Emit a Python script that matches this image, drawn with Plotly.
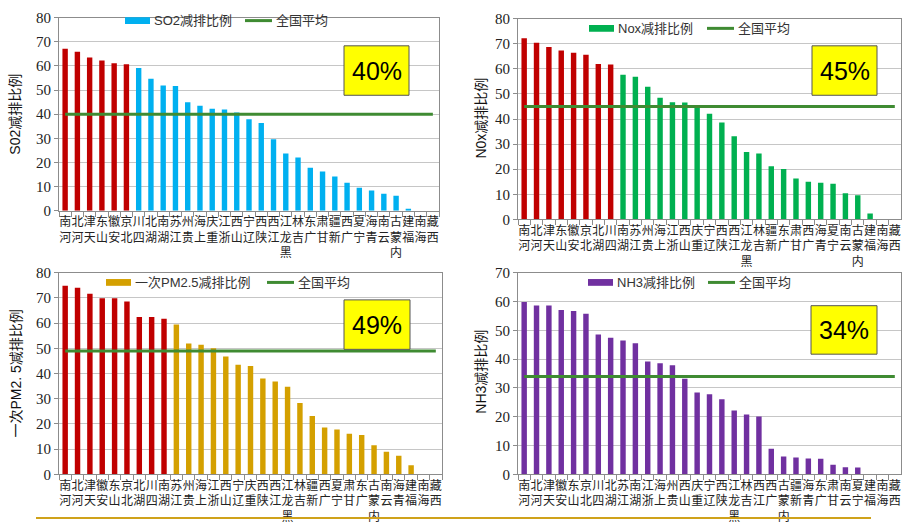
import plotly.graph_objects as go

W, H = 903, 528

# ---- data -------------------------------------------------------------
so2_provinces = ["河南", "河北", "天津", "山东", "安徽", "北京", "四川", "湖北", "湖南", "江苏",
                 "贵州", "上海", "重庆", "浙江", "山西", "辽宁", "陕西", "江西", "黑龙江", "吉林",
                 "广东", "甘肃", "新疆", "广西", "宁夏", "青海", "云南", "内蒙古", "福建", "海南", "西藏"]
so2_values = [67.1, 65.9, 63.5, 62.3, 61.1, 60.7, 59.1, 54.7, 51.9, 51.7,
              44.9, 43.5, 42.3, 41.9, 40.7, 37.9, 36.3, 29.6, 23.7, 22.0,
              17.8, 16.2, 14.2, 11.6, 9.5, 8.4, 7.0, 6.2, 0.7, 0, 0]
so2_highlight = 6
so2_avg = 40

nox_provinces = ["河南", "河北", "天津", "山东", "安徽", "北京", "湖北", "四川", "湖南", "江苏",
                 "贵州", "上海", "浙江", "山西", "重庆", "辽宁", "陕西", "江西", "黑龙江", "吉林",
                 "新疆", "广东", "甘肃", "广西", "青海", "宁夏", "云南", "内蒙古", "福建", "海南", "西藏"]
nox_values = [72.2, 70.4, 68.7, 67.3, 66.4, 65.6, 61.9, 61.7, 57.6, 56.9,
              52.9, 48.5, 46.7, 46.6, 45.5, 42.1, 38.6, 33.1, 26.9, 26.3,
              21.2, 20.1, 16.3, 15.0, 14.6, 14.2, 10.4, 9.6, 2.4, 0, 0]
nox_highlight = 8
nox_avg = 45

pm_provinces = ["河南", "河北", "天津", "安徽", "山东", "北京", "湖北", "四川", "湖南", "江苏",
                "贵州", "上海", "浙江", "山西", "辽宁", "重庆", "陕西", "江西", "黑龙江", "吉林",
                "新疆", "广西", "宁夏", "甘肃", "广东", "内蒙古", "云南", "青海", "福建", "海南", "西藏"]
pm_values = [74.8, 74.0, 71.7, 69.9, 69.9, 68.6, 62.4, 62.4, 61.7, 59.5,
             51.9, 51.4, 50.0, 46.8, 43.5, 43.0, 38.0, 36.9, 34.8, 28.3,
             23.2, 18.6, 17.8, 16.1, 15.6, 11.6, 9.0, 7.4, 3.6, 0, 0]
pm_highlight = 9
pm_avg = 49

nh3_provinces = ["河南", "河北", "天津", "安徽", "山东", "北京", "四川", "湖北", "江苏", "湖南",
                 "浙江", "上海", "贵州", "山西", "重庆", "辽宁", "陕西", "黑龙江", "吉林", "江西",
                 "广西", "内蒙古", "新疆", "青海", "广东", "甘肃", "云南", "宁夏", "福建", "海南", "西藏"]
nh3_values = [59.8, 58.6, 58.6, 57.1, 56.7, 55.8, 48.6, 47.4, 46.5, 45.5,
              39.2, 38.6, 37.9, 33.2, 28.4, 27.8, 26.1, 22.2, 20.8, 20.1,
              8.9, 6.2, 5.9, 5.5, 5.4, 3.4, 2.5, 2.4, 0, 0, 0]
nh3_highlight = 0
nh3_avg = 34

avg_name = "全国平均"

# ---- styling ------------------------------------------------------------
RED = "#C00000"
AVG_GREEN = "#3F8B32"
GRID = "#C6C6C6"
AXIS = "#8C8C8C"
SANS = "Liberation Sans, Noto Sans CJK SC, sans-serif"
SERIF = "Liberation Serif, DejaVu Serif, serif"
CJK = "Noto Sans CJK SC, sans-serif"


def px(x):
    return x / W


def py(y):
    return 1 - y / H


def stacked(name):
    # characters stacked upright, read from bottom to top
    return "<br>".join(reversed(name))


panels = [
    dict(prov=so2_provinces, vals=so2_values, n_hi=so2_highlight, avg=so2_avg,
         color="#00B0F0", name="SO2减排比例", ytitle="S02减排比例", ymax=80,
         xd=(59, 439), yd=(10, 209), title_x=15, title_y=110,
         leg=(125, 13), leg2=(245, 13), box=(344, 39, 409, 90)),
    dict(prov=nox_provinces, vals=nox_values, n_hi=nox_highlight, avg=nox_avg,
         color="#00B050", name="Nox减排比例", ytitle="N0x减排比例", ymax=80,
         xd=(518, 901), yd=(11, 218), title_x=481, title_y=114,
         leg=(589, 21), leg2=(707, 21), box=(812, 39, 877, 90)),
    dict(prov=pm_provinces, vals=pm_values, n_hi=pm_highlight, avg=pm_avg,
         color="#D4A000", name="一次PM2.5减排比例", ytitle="一次PM2. 5减排比例", ymax=80,
         xd=(59, 442), yd=(273, 481), title_x=16, title_y=377,
         leg=(106, 283), leg2=(267, 283), box=(344, 301, 410, 352)),
    dict(prov=nh3_provinces, vals=nh3_values, n_hi=nh3_highlight, avg=nh3_avg,
         color="#7030A0", name="NH3减排比例", ytitle="NH3减排比例", ymax=70,
         xd=(518, 901), yd=(273, 481), title_x=481, title_y=375,
         leg=(588, 283), leg2=(708, 283), box=(811, 307, 877, 357)),
]

fig = go.Figure()
shapes = []
annotations = []
layout_axes = {}

for i, p in enumerate(panels, start=1):
    xa = "x" if i == 1 else f"x{i}"
    ya = "y" if i == 1 else f"y{i}"
    n = len(p["prov"])
    colors = [RED] * p["n_hi"] + [p["color"]] * (n - p["n_hi"])

    fig.add_trace(go.Bar(
        x=p["prov"], y=p["vals"], marker=dict(color=colors, line=dict(width=0)),
        name=p["name"], xaxis=xa, yaxis=ya, showlegend=False,
    ))
    fig.add_trace(go.Scatter(
        x=p["prov"], y=[p["avg"]] * n, mode="lines",
        line=dict(color=AVG_GREEN, width=3), name=avg_name,
        xaxis=xa, yaxis=ya, showlegend=False,
    ))

    xkey = "xaxis" if i == 1 else f"xaxis{i}"
    ykey = "yaxis" if i == 1 else f"yaxis{i}"
    layout_axes[xkey] = dict(
        domain=[px(p["xd"][0]), px(p["xd"][1])], anchor=ya, type="category",
        tickvals=p["prov"], ticktext=[stacked(s) for s in p["prov"]],
        tickangle=0, tickson="boundaries", ticks="outside", ticklen=5,
        tickcolor=AXIS, showline=True, linecolor=AXIS, mirror=True,
        tickfont=dict(family=CJK, size=12, color="#222222"),
        range=[-0.5, n - 0.5], showgrid=False,
    )
    layout_axes[ykey] = dict(
        domain=[py(p["yd"][1]), py(p["yd"][0])], anchor=xa,
        range=[0, p["ymax"]], dtick=10, showgrid=True, gridcolor=GRID, gridwidth=1,
        showline=True, linecolor=AXIS, mirror=True, ticks="outside", ticklen=4,
        tickcolor=AXIS, tickfont=dict(family=SERIF, size=15, color="#222222"),
        zeroline=False,
    )

    # axis title
    annotations.append(dict(
        x=px(p["title_x"]), y=py(p["title_y"]), xref="paper", yref="paper",
        xanchor="center", yanchor="middle",
        text=p["ytitle"], textangle=-90, showarrow=False,
        font=dict(family=SANS, size=14, color="#111111"),
    ))

    # legend: bar swatch + label, line swatch + label
    lx, ly = p["leg"]
    shapes.append(dict(type="rect", xref="paper", yref="paper",
                       x0=px(lx), x1=px(lx + 25), y0=py(ly + 3.5), y1=py(ly - 3.5),
                       fillcolor=p["color"], line=dict(width=0)))
    annotations.append(dict(x=px(lx + 27), y=py(ly), xref="paper", yref="paper",
                            text=p["name"], showarrow=False, xanchor="left", yanchor="middle",
                            font=dict(family=SANS, size=13, color="#333333")))
    l2x, l2y = p["leg2"]
    shapes.append(dict(type="line", xref="paper", yref="paper",
                       x0=px(l2x), x1=px(l2x + 27), y0=py(l2y), y1=py(l2y),
                       line=dict(color=AVG_GREEN, width=3)))
    annotations.append(dict(x=px(l2x + 29), y=py(l2y), xref="paper", yref="paper",
                            text=avg_name, showarrow=False, xanchor="left", yanchor="middle",
                            font=dict(family=SANS, size=13, color="#333333")))

    # national average callout
    bx0, by0, bx1, by1 = p["box"]
    shapes.append(dict(type="rect", xref="paper", yref="paper",
                       x0=px(bx0), x1=px(bx1), y0=py(by1), y1=py(by0),
                       fillcolor="#FFFF00", line=dict(color="#555555", width=1)))
    annotations.append(dict(x=px((bx0 + bx1) / 2), y=py((by0 + by1) / 2),
                            xref="paper", yref="paper", text=f"{p['avg']}%",
                            showarrow=False, xanchor="center", yanchor="middle",
                            font=dict(family=SANS, size=25, color="#000000")))

# slide divider along the bottom
shapes.append(dict(type="line", xref="paper", yref="paper",
                   x0=px(36), x1=px(871), y0=py(526), y1=py(526),
                   line=dict(color="#CFA21A", width=2)))

fig.update_layout(
    width=W, height=H, margin=dict(l=0, r=0, t=0, b=0),
    paper_bgcolor="white", plot_bgcolor="white",
    barmode="group", bargap=0.56, showlegend=False,
    shapes=shapes, annotations=annotations, **layout_axes,
)

fig.write_html("out.html")
